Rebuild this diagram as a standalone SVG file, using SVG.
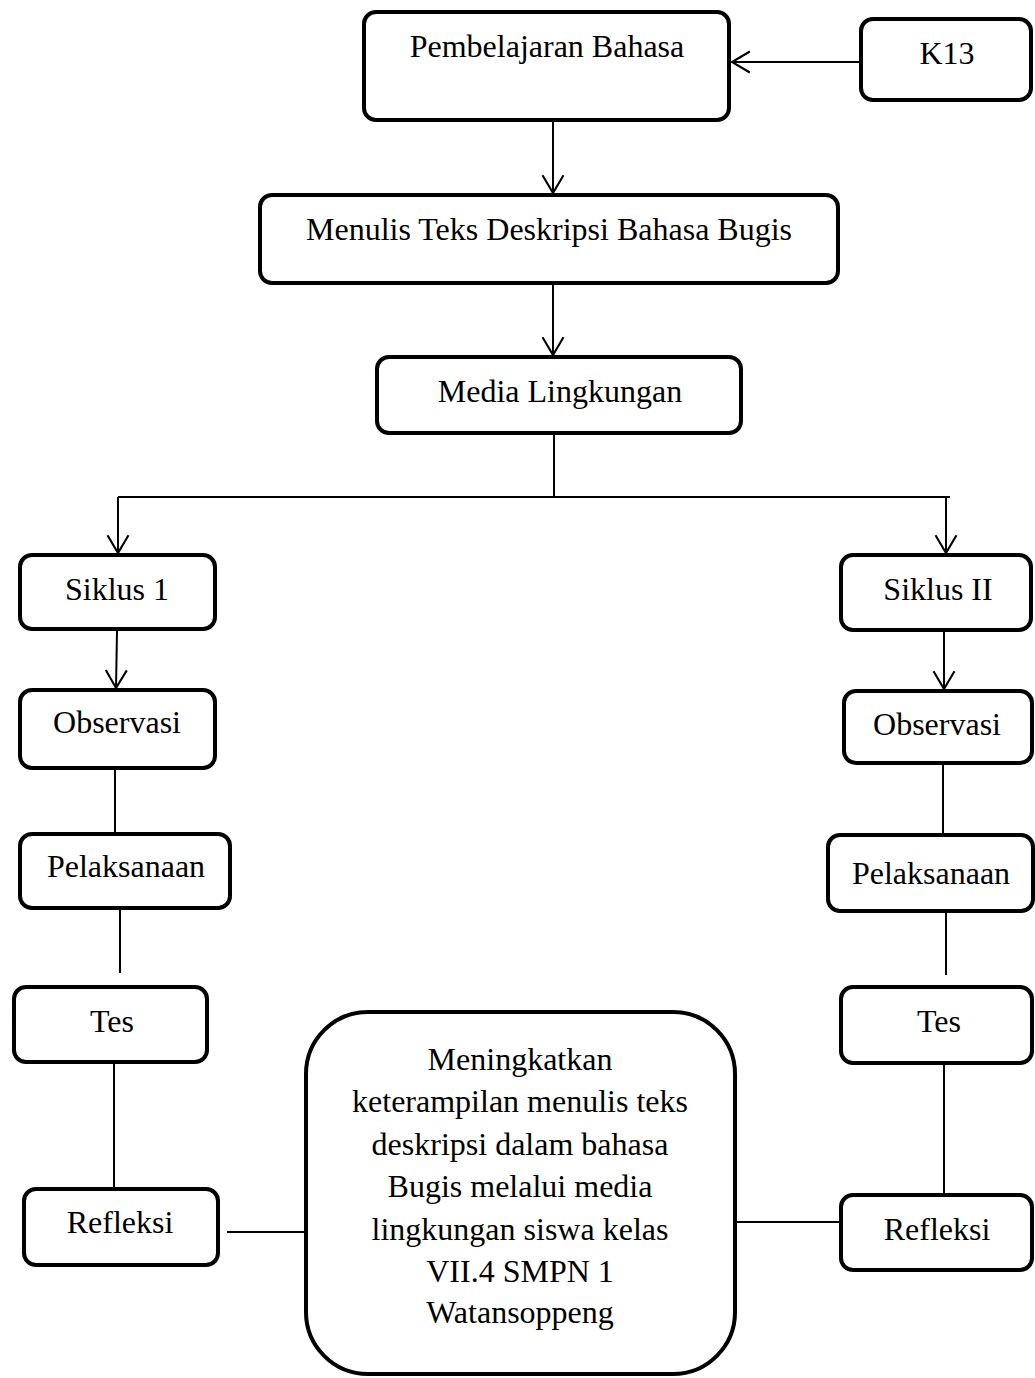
<svg xmlns="http://www.w3.org/2000/svg" width="1035" height="1378" viewBox="0 0 1035 1378">
<style>
.box{fill:#fff;stroke:#000;stroke-width:4}
.t{font-family:"Liberation Serif","Times New Roman",serif;font-size:32px;fill:#000;text-anchor:middle}
.c{fill:none;stroke:#000;stroke-width:2}
.a{marker-end:url(#arr)}
</style>
<defs>
<marker id="arr" markerUnits="userSpaceOnUse" markerWidth="22" markerHeight="26" viewBox="-19 -12 21 24" refX="0" refY="0" orient="auto">
<path d="M-17,-10 L0,0 L-17,10" fill="none" stroke="#000" stroke-width="2"/>
</marker>
</defs>
<rect width="1035" height="1378" fill="#fff"/>
<g id="connectors">
<line class="c a" x1="859" y1="62" x2="732" y2="62"/>
<line class="c a" x1="553" y1="122" x2="553" y2="193"/>
<line class="c a" x1="553" y1="285" x2="553" y2="355"/>
<polyline class="c" points="554,435 554,497"/>
<line class="c" x1="118" y1="497" x2="950" y2="497"/>
<line class="c a" x1="118" y1="497" x2="118" y2="553"/>
<line class="c a" x1="946" y1="497" x2="946" y2="553"/>
<line class="c a" x1="117" y1="631" x2="116" y2="688"/>
<line class="c a" x1="944" y1="632" x2="944" y2="689"/>
<line class="c" x1="115" y1="770" x2="115" y2="832"/>
<line class="c" x1="120" y1="910" x2="120" y2="973"/>
<line class="c" x1="114" y1="1064" x2="114" y2="1187"/>
<line class="c" x1="227" y1="1232" x2="304" y2="1232"/>
<line class="c" x1="943" y1="765" x2="943" y2="833"/>
<line class="c" x1="946" y1="913" x2="946" y2="975"/>
<line class="c" x1="944" y1="1065" x2="944" y2="1193"/>
<line class="c" x1="737" y1="1222" x2="839" y2="1222"/>
</g>
<g id="pembelajaran"><rect class="box" x="364" y="12" width="365" height="108" rx="12"/><text class="t" x="547" y="57">Pembelajaran Bahasa</text></g>
<g id="k13"><rect class="box" x="861" y="19" width="170" height="81" rx="12"/><text class="t" x="947" y="64">K13</text></g>
<g id="menulis"><rect class="box" x="260" y="195" width="578" height="88" rx="12"/><text class="t" x="549" y="240">Menulis Teks Deskripsi Bahasa Bugis</text></g>
<g id="media"><rect class="box" x="377" y="357" width="364" height="76" rx="12"/><text class="t" x="560" y="402">Media Lingkungan</text></g>
<g id="siklus1"><rect class="box" x="20" y="555" width="195" height="74" rx="12"/><text class="t" x="117" y="600">Siklus 1</text></g>
<g id="siklus2"><rect class="box" x="841" y="555" width="190" height="75" rx="12"/><text class="t" x="938" y="600">Siklus II</text></g>
<g id="observasi1"><rect class="box" x="20" y="690" width="195" height="78" rx="12"/><text class="t" x="117" y="733">Observasi</text></g>
<g id="observasi2"><rect class="box" x="844" y="691" width="188" height="72" rx="12"/><text class="t" x="937" y="735">Observasi</text></g>
<g id="pelaksanaan1"><rect class="box" x="20" y="834" width="210" height="74" rx="12"/><text class="t" x="126" y="877">Pelaksanaan</text></g>
<g id="pelaksanaan2"><rect class="box" x="828" y="835" width="205" height="76" rx="12"/><text class="t" x="931" y="884">Pelaksanaan</text></g>
<g id="tes1"><rect class="box" x="14" y="987" width="193" height="75" rx="12"/><text class="t" x="112" y="1032">Tes</text></g>
<g id="tes2"><rect class="box" x="841" y="987" width="191" height="76" rx="12"/><text class="t" x="939" y="1032">Tes</text></g>
<g id="refleksi1"><rect class="box" x="24" y="1189" width="194" height="76" rx="12"/><text class="t" x="120" y="1233">Refleksi</text></g>
<g id="refleksi2"><rect class="box" x="841" y="1195" width="191" height="75" rx="12"/><text class="t" x="937" y="1240">Refleksi</text></g>
<g id="tujuan"><rect class="box" x="306" y="1012" width="429" height="362" rx="62"/>
<text class="t" x="520" y="1070">Meningkatkan</text>
<text class="t" x="520" y="1112">keterampilan menulis teks</text>
<text class="t" x="520" y="1155">deskripsi dalam bahasa</text>
<text class="t" x="520" y="1197">Bugis melalui media</text>
<text class="t" x="520" y="1240">lingkungan siswa kelas</text>
<text class="t" x="520" y="1282">VII.4 SMPN 1</text>
<text class="t" x="520" y="1323">Watansoppeng</text>
</g>
</svg>
